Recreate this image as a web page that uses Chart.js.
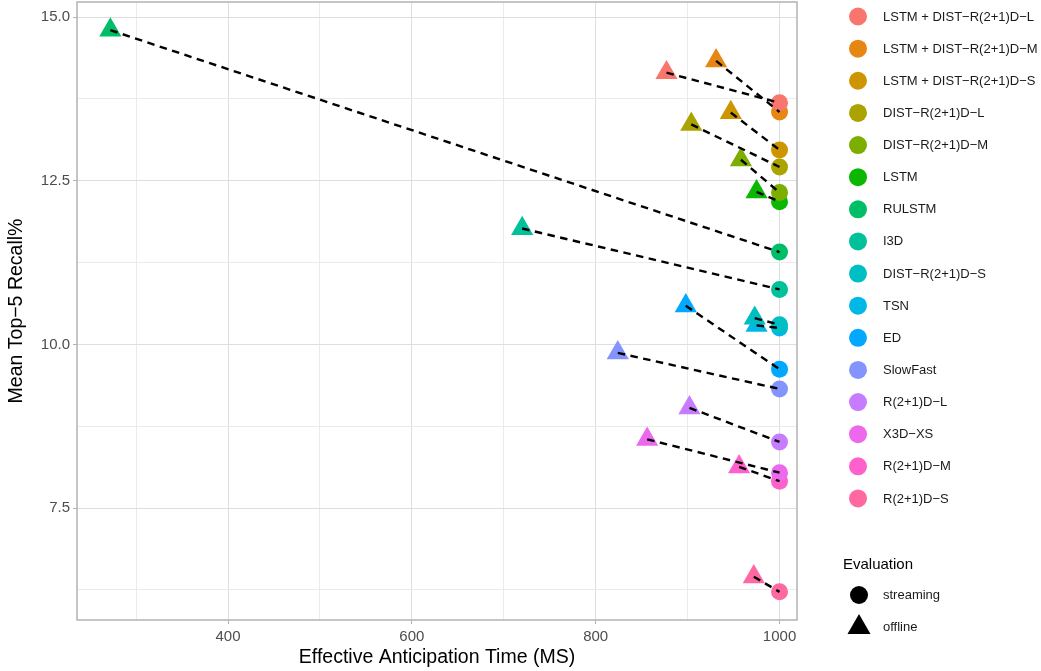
<!DOCTYPE html>
<html>
<head>
<meta charset="utf-8">
<script src="https://cdn.jsdelivr.net/npm/chart.js@4.4.0/dist/chart.umd.min.js"></script>
<style>
  html, body { margin: 0; padding: 0; background: #fff; }
</style>
</head>
<body>
<canvas id="myChart" width="1041" height="671"></canvas>
<script>
// models in legend order
const models = [
  'LSTM + DIST\u2212R(2+1)D\u2212L',
  'LSTM + DIST\u2212R(2+1)D\u2212M',
  'LSTM + DIST\u2212R(2+1)D\u2212S',
  'DIST\u2212R(2+1)D\u2212L',
  'DIST\u2212R(2+1)D\u2212M',
  'LSTM',
  'RULSTM',
  'I3D',
  'DIST\u2212R(2+1)D\u2212S',
  'TSN',
  'ED',
  'SlowFast',
  'R(2+1)D\u2212L',
  'X3D\u2212XS',
  'R(2+1)D\u2212M',
  'R(2+1)D\u2212S'
];
const offlineTime     = [877, 931, 947, 904, 958, 975, 272, 720, 973, 975, 898, 824, 902, 856, 956, 972];
const offlineRecall   = [14.15, 14.33, 13.54, 13.36, 12.82, 12.33, 14.80, 11.77, 10.40, 10.29, 10.59, 9.87, 9.03, 8.55, 8.13, 6.45];
const streamingTime   = [1000, 1000, 1000, 1000, 1000, 1000, 1000, 1000, 1000, 1000, 1000, 1000, 1000, 1000, 1000, 1000];
const streamingRecall = [13.69, 13.55, 12.97, 12.71, 12.32, 12.18, 11.41, 10.84, 10.30, 10.25, 9.62, 9.32, 8.51, 8.04, 7.91, 6.22];
const evaluations = ['streaming', 'offline'];

const xMajor = [400, 600, 800, 1000];
const xMinor = [300, 500, 700, 900];
const yMajor = [7.5, 10.0, 12.5, 15.0];
const yMinor = [6.25, 8.75, 11.25, 13.75];

const colors = ['#F8766D', '#E68613', '#CD9600', '#ABA300', '#7CAE00', '#0CB702', '#00BE67', '#00C19A',
                '#00BFC4', '#00B8E7', '#00A9FF', '#8494FF', '#C77CFF', '#ED68ED', '#FF61CC', '#FF68A1'];

const FONT = '"Liberation Sans", Arial, Helvetica, sans-serif';

const pointSets = models.map((name, i) => ({
  label: name,
  data: [{x: offlineTime[i], y: offlineRecall[i]}, {x: streamingTime[i], y: streamingRecall[i]}],
  pointStyle: ['triangle', 'circle'],
  pointRadius: [12.8, 8.5],
  backgroundColor: colors[i],
  borderColor: colors[i],
  pointBorderWidth: 0,
  showLine: false,
  order: 1
}));

const lineSets = models.map((name, i) => ({
  label: name + ' line',
  data: [{x: offlineTime[i], y: offlineRecall[i]}, {x: streamingTime[i], y: streamingRecall[i]}],
  showLine: true,
  borderColor: '#000',
  borderWidth: 2.4,
  borderDash: [7.5, 5.5],
  pointRadius: 0,
  order: 0
}));

const isIn = (arr, v) => arr.some(a => Math.abs(a - v) < 1e-6);

const panelBorder = {
  id: 'panelBorder',
  afterDatasetsDraw(chart) {
    const {ctx, chartArea: a} = chart;
    ctx.save();
    ctx.strokeStyle = '#B3B3B3';
    ctx.lineWidth = 1.5;
    ctx.strokeRect(a.left, a.top, a.right - a.left, a.bottom - a.top);
    ctx.restore();
  }
};

const sideLegend = {
  id: 'sideLegend',
  afterDraw(chart) {
    const ctx = chart.ctx;
    ctx.save();
    ctx.textBaseline = 'middle';
    ctx.textAlign = 'left';
    ctx.font = '13px ' + FONT;
    models.forEach((name, i) => {
      const y = 16.5 + i * 32.13;
      ctx.fillStyle = colors[i];
      ctx.beginPath();
      ctx.arc(858, y, 9, 0, Math.PI * 2);
      ctx.fill();
      ctx.fillStyle = '#1A1A1A';
      ctx.fillText(name, 883, y + 0.5);
    });

    ctx.font = '15px ' + FONT;
    ctx.fillStyle = '#000';
    ctx.fillText('Evaluation', 843, 565);

    ctx.font = '13px ' + FONT;
    ctx.beginPath();
    ctx.arc(859, 595, 9, 0, Math.PI * 2);
    ctx.fill();
    ctx.fillStyle = '#1A1A1A';
    ctx.fillText(evaluations[0], 883, 595.5);

    ctx.fillStyle = '#000';
    ctx.beginPath();
    ctx.moveTo(859, 614);
    ctx.lineTo(870.5, 634);
    ctx.lineTo(847.5, 634);
    ctx.closePath();
    ctx.fill();
    ctx.fillStyle = '#1A1A1A';
    ctx.fillText(evaluations[1], 883, 627.5);
    ctx.restore();
  }
};

new Chart(document.getElementById('myChart'), {
  type: 'scatter',
  data: { datasets: [...lineSets, ...pointSets] },
  plugins: [panelBorder, sideLegend],
  options: {
    responsive: false,
    animation: false,
    layout: { autoPadding: false, padding: { left: 0, top: 2, right: 244, bottom: 0 } },
    plugins: { legend: { display: false }, tooltip: { enabled: false } },
    scales: {
      x: {
        type: 'linear',
        min: 235.7,
        max: 1019,
        afterBuildTicks: (scale) => {
          scale.ticks = [...xMinor, ...xMajor].sort((a, b) => a - b).map(v => ({value: v}));
        },
        afterFit: (scale) => {
          scale.height = 51;
          scale.paddingLeft = 0;
          scale.paddingRight = 0;
        },
        border: { display: false },
        grid: {
          color: (c) => isIn(xMajor, c.tick.value) ? '#DEDEDE' : '#EBEBEB',
          lineWidth: 1,
          tickLength: 4,
          tickColor: (c) => isIn(xMajor, c.tick.value) ? '#B3B3B3' : 'rgba(0,0,0,0)'
        },
        ticks: {
          autoSkip: false,
          maxRotation: 0,
          padding: 4,
          color: '#4D4D4D',
          font: { family: FONT, size: 15 },
          callback: (v) => isIn(xMajor, v) ? String(v) : ''
        },
        title: {
          display: true,
          text: 'Effective Anticipation Time (MS)',
          color: '#000',
          font: { family: FONT, size: 19.5 },
          padding: { top: 0, bottom: 2 }
        }
      },
      y: {
        type: 'linear',
        min: 5.79,
        max: 15.23,
        afterBuildTicks: (scale) => {
          scale.ticks = [...yMinor, ...yMajor].sort((a, b) => a - b).map(v => ({value: v}));
        },
        afterFit: (scale) => {
          scale.width = 77;
          scale.paddingTop = 0;
          scale.paddingBottom = 0;
        },
        border: { display: false },
        grid: {
          color: (c) => isIn(yMajor, c.tick.value) ? '#DEDEDE' : '#EBEBEB',
          lineWidth: 1,
          tickLength: 4,
          tickColor: (c) => isIn(yMajor, c.tick.value) ? '#B3B3B3' : 'rgba(0,0,0,0)'
        },
        ticks: {
          autoSkip: false,
          padding: 3,
          color: '#4D4D4D',
          font: { family: FONT, size: 15 },
          callback: (v) => isIn(yMajor, v) ? v.toFixed(1) : ''
        },
        title: {
          display: true,
          text: 'Mean Top\u22125 Recall%',
          color: '#000',
          font: { family: FONT, size: 19.5 },
          padding: { top: 5, bottom: 0 }
        }
      }
    }
  }
});
</script>
</body>
</html>
